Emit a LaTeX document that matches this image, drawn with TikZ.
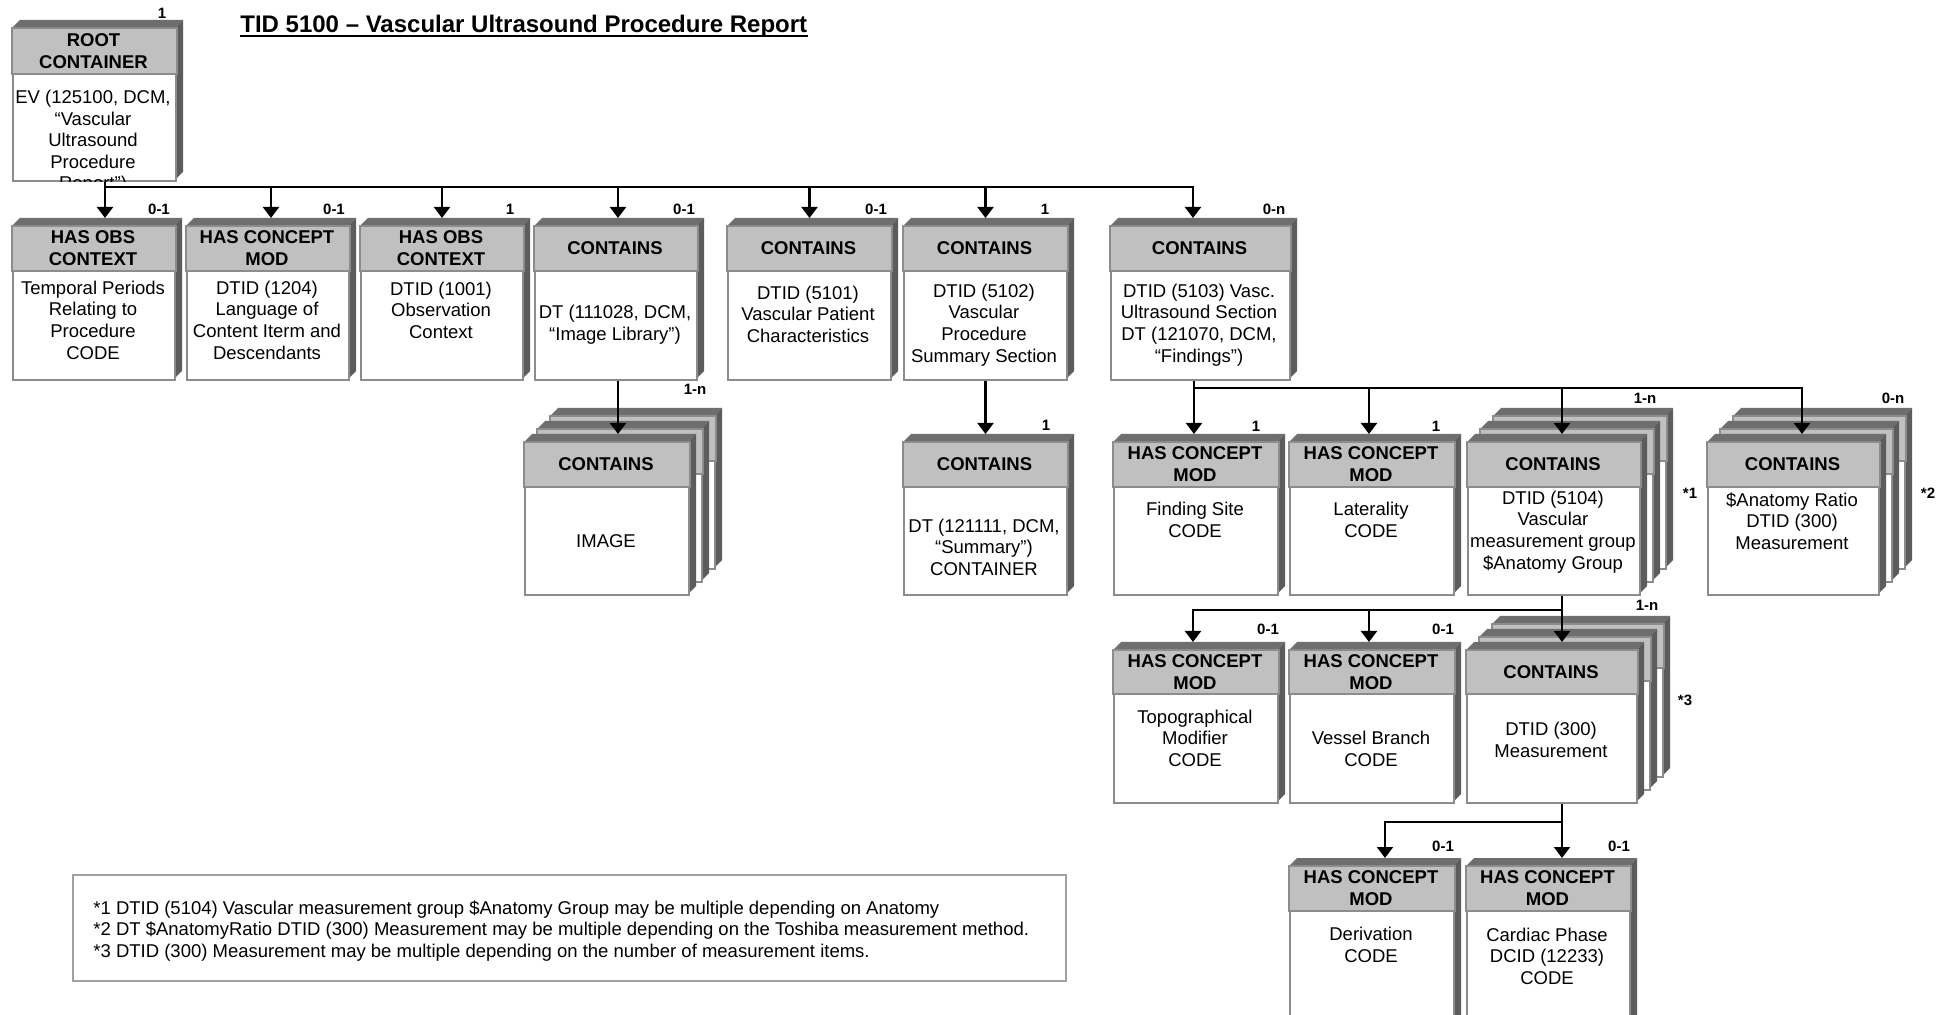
\documentclass[tikz,border=0pt]{standalone}
\usepackage{fontspec}
\setmainfont{Liberation Sans}
\usetikzlibrary{arrows.meta}
\definecolor{headgray}{HTML}{C0C0C0}
\definecolor{edgegray}{HTML}{8C8C8C}
\definecolor{bevelA}{HTML}{6E6E6E}
\definecolor{bevelB}{HTML}{5C5C5C}
\definecolor{notegray}{HTML}{A0A0A0}

% 3D record box: name, x, y, width, height, header height, header text
\newcommand{\recbox}[7]{%
  \fill[bevtop] (#2,#3) -- ++(8,-8) -- ++(#4,0) -- ++(-8,8) -- cycle;
  \fill[bevside] ({#2+#4},#3) -- ++(8,-8) -- ++(0,#5) -- ++(-8,8) -- cycle;
  \node[boxface, minimum width=#4*0.5pt, minimum height=#5*0.5pt] (#1) at (#2,#3) {};
  \filldraw[boxhead] (#1.north west) rectangle ([yshift=-#6*0.5pt]#1.north east);
  \node[headtxt] (#1-h) at ({#2+#4/2},{#3+#6/2}) {#7};
}

\begin{document}
\begin{tikzpicture}[x=0.5pt,y=-0.5pt,
  bevtop/.style={fill=bevelA},
  bevside/.style={fill=bevelB},
  boxface/.style={draw=edgegray,fill=white,line width=1pt,anchor=north west,inner sep=0pt},
  boxhead/.style={draw=edgegray,fill=headgray,line width=1pt},
  headtxt/.style={font=\bfseries\fontsize{9.25}{11}\selectfont,align=center,inner sep=0pt},
  bodytxt/.style={font=\fontsize{9.25}{10.8}\selectfont,align=center,inner sep=0pt},
  multtxt/.style={font=\bfseries\fontsize{7.5}{9}\selectfont,inner sep=0pt},
  conn/.style={line width=1.1pt,-{Triangle[width=8pt,length=5.5pt]}}]
\useasboundingbox (0,0) rectangle (1949,1015);
\clip (0,0) rectangle (1949,1015);
\fill[white] (0,0) rectangle (1949,1015);

% title
\node[font=\bfseries\fontsize{12}{14}\selectfont,anchor=base west,inner sep=0pt] (title) at (240,33) {TID 5100 – Vascular Ultrasound Procedure Report};
\draw[line width=1pt] ([yshift=-1.75pt]title.base west) -- ([yshift=-1.75pt]title.base east);

% root
\recbox{root}{12}{28}{163}{152}{46}{ROOT\\CONTAINER}
\begin{scope}
\clip (root.north west) rectangle (root.south east);
\node[bodytxt] (root-t) at (93,142) {EV (125100, DCM,\\“Vascular\\Ultrasound\\Procedure\\Report”)};
\end{scope}

% first level
\recbox{b1}{12}{226}{162}{153}{45}{HAS OBS\\CONTEXT}
\recbox{b2}{186}{226}{162}{153}{45}{HAS CONCEPT\\MOD}
\recbox{b3}{360}{226}{162}{153}{45}{HAS OBS\\CONTEXT}
\recbox{b4}{534}{226}{162}{153}{45}{CONTAINS}
\recbox{b5}{727}{226}{163}{153}{45}{CONTAINS}
\recbox{b6}{903}{226}{163}{153}{45}{CONTAINS}
\recbox{b7}{1110}{226}{179}{153}{45}{CONTAINS}

% second level
\foreach \k in {2,1} {
  \recbox{img-\k}{524+13*\k}{442-13*\k}{164}{152}{45}{}
  \recbox{grp-\k}{1467+13*\k}{442-13*\k}{172}{152}{45}{}
  \recbox{ana-\k}{1707+13*\k}{442-13*\k}{171}{152}{45}{}
}
\recbox{img}{524}{442}{164}{152}{45}{CONTAINS}
\recbox{summ}{903}{442}{163}{152}{45}{CONTAINS}
\recbox{fsite}{1113}{442}{164}{152}{45}{HAS CONCEPT\\MOD}
\recbox{lat}{1289}{442}{164}{152}{45}{HAS CONCEPT\\MOD}
\recbox{grp}{1467}{442}{172}{152}{45}{CONTAINS}
\recbox{ana}{1707}{442}{171}{152}{45}{CONTAINS}

% third level
\foreach \k in {2,1} {
  \recbox{meas-\k}{1466+13*\k}{650-13*\k}{170}{152}{44}{}
}
\recbox{topo}{1113}{650}{164}{152}{44}{HAS CONCEPT\\MOD}
\recbox{vess}{1289}{650}{164}{152}{44}{HAS CONCEPT\\MOD}
\recbox{meas}{1466}{650}{170}{152}{44}{CONTAINS}

% fourth level
\recbox{deriv}{1289}{866}{164}{170}{45}{HAS CONCEPT\\MOD}
\recbox{cphase}{1466}{866}{163}{170}{45}{HAS CONCEPT\\MOD}

% box contents
\node[bodytxt] (b1-t) at (93,320) {Temporal Periods\\Relating to\\Procedure\\CODE};
\node[bodytxt] (b2-t) at (267,320) {DTID (1204)\\Language of\\Content Iterm and\\Descendants};
\node[bodytxt] (b3-t) at (441,310) {DTID (1001)\\Observation\\Context};
\node[bodytxt] (b4-t) at (615,325) {DT (111028, DCM,\\“Image Library”)};
\node[bodytxt] (b5-t) at (808,314) {DTID (5101)\\Vascular Patient\\Characteristics};
\node[bodytxt] (b6-t) at (984,325) {DTID (5102)\\Vascular\\Procedure\\Summary Section};
\node[bodytxt] (b7-t) at (1199,325) {DTID (5103) Vasc.\\Ultrasound Section\\DT (121070, DCM,\\“Findings”)};
\node[bodytxt] (img-t) at (606,541) {IMAGE};
\node[bodytxt] (summ-t) at (984,547) {DT (121111, DCM,\\“Summary”)\\CONTAINER};
\node[bodytxt] (fsite-t) at (1195,520) {Finding Site\\CODE};
\node[bodytxt] (lat-t) at (1371,520) {Laterality\\CODE};
\node[bodytxt] (grp-t) at (1553,532) {DTID (5104)\\Vascular\\measurement group\\\$Anatomy Group};
\node[bodytxt] (ana-t) at (1792,521) {\$Anatomy Ratio\\DTID (300)\\Measurement};
\node[bodytxt] (topo-t) at (1195,738) {Topographical\\Modifier\\CODE};
\node[bodytxt] (vess-t) at (1371,749) {Vessel Branch\\CODE};
\node[bodytxt] (meas-t) at (1551,740) {DTID (300)\\Measurement};
\node[bodytxt] (deriv-t) at (1371,945) {Derivation\\CODE};
\node[bodytxt] (cphase-t) at (1547,956) {Cardiac Phase\\DCID (12233)\\CODE};

% connectors
\foreach \t/\s in {b1/5.5pt,b2/1.5pt,b3/0pt,b4/1pt,b5/0pt,b6/0pt,b7/-3.75pt}
  \draw[conn] ([xshift=5.25pt]root.south) -- ++(0,5) -| ([xshift=\s,yshift=4pt]\t.north);
\draw[conn] ([xshift=1pt]b4.south) -- ([xshift=5.5pt,yshift=4pt]img.north);
\draw[conn] (b6.south) -- ([yshift=4pt]summ.north);
\foreach \t/\s in {fsite/-1pt,lat/-1.5pt,grp/4pt,ana/4.25pt}
  \draw[conn] ([xshift=-3.25pt]b7.south) -- ++(0,7) -| ([xshift=\s,yshift=4pt]\t.north);
\foreach \t/\s in {topo/-1.5pt,vess/-1.5pt,meas/5pt}
  \draw[conn] ([xshift=4pt]grp.south) -- ++(0,14) -| ([xshift=\s,yshift=4pt]\t.north);
\foreach \t/\s in {deriv/6.5pt,cphase/6.75pt}
  \draw[conn] ([xshift=5pt]meas.south) -- ++(0,18) -| ([xshift=\s,yshift=4pt]\t.north);

% multiplicities and note marks
\foreach \lab/\x/\y/\v in {r/162/13/1,a/159/209/0-1,b/334/209/0-1,c/510/209/1,d/684/209/0-1,e/876/209/0-1,f/1045/209/1,g/1274/209/0-n,h/695/389/1-n,i/1046/425/1,j/1256/426/1,k/1436/426/1,l/1645/398/1-n,m/1893/398/0-n,n/1690/493/*1,o/1928/493/*2,p/1268/629/0-1,q/1443/629/0-1,s/1647/605/1-n,t/1685/700/*3,u/1443/846/0-1,v/1619/846/0-1}
  \node[multtxt] (m-\lab) at (\x,\y) {\v};

% notes
\node[draw=notegray,line width=0.75pt,anchor=north west,inner sep=0pt,minimum width=993*0.5pt,minimum height=106*0.5pt] (notes) at (72,874) {};
\node[bodytxt,align=left,anchor=west] (notes-t) at (93,931) {*1 DTID (5104) Vascular measurement group \$Anatomy Group may be multiple depending on Anatomy\\{}*2 DT \$AnatomyRatio DTID (300) Measurement may be multiple depending on the Toshiba measurement method.\\{}*3 DTID (300) Measurement may be multiple depending on the number of measurement items.};
\end{tikzpicture}
\end{document}
